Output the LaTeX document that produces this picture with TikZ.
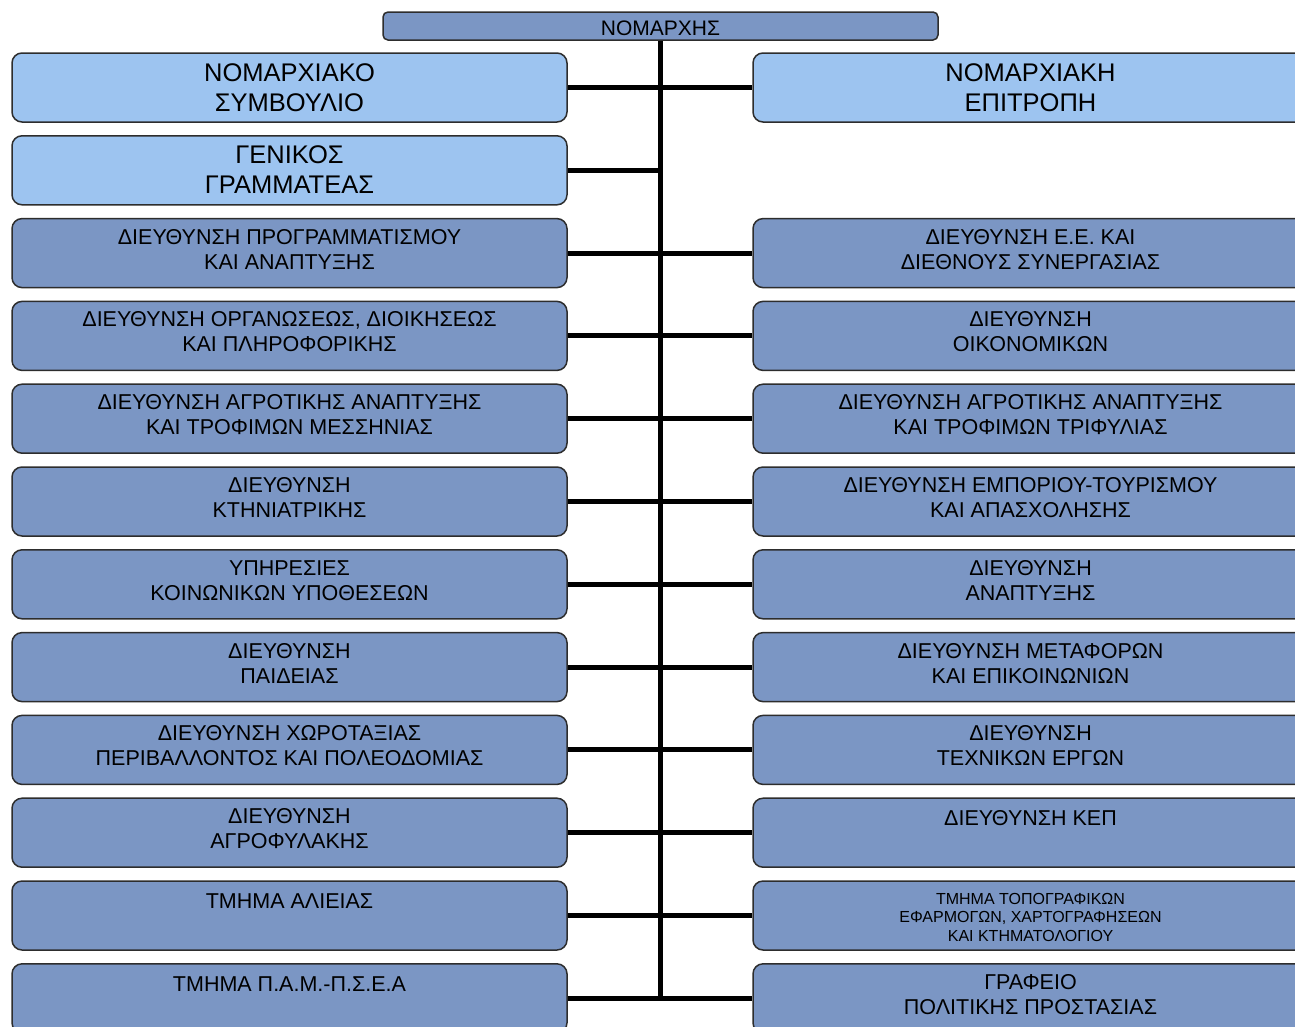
\documentclass[tikz,border=0pt]{standalone}
\usepackage{fontspec}
\setmainfont{Liberation Sans}
\usepackage{xcolor}
\usetikzlibrary{positioning}

\definecolor{lightunit}{RGB}{157,196,240}
\definecolor{darkunit}{RGB}{123,150,196}
\definecolor{edgegray}{RGB}{45,45,45}

\begin{document}
\begin{tikzpicture}[x=1pt, y=-1pt, node distance=82.8pt]
\tikzstyle{unit} = [rectangle, rounded corners=10pt, draw=edgegray, line width=1.5pt, minimum width=555pt, inner sep=0pt, align=center, text height=50.5pt, text depth=18.5pt]
\tikzstyle{light} = [unit, fill=lightunit, font=\fontsize{25.5}{30}\selectfont, text height=58pt, text depth=11pt]
\tikzstyle{dark} = [unit, fill=darkunit, font=\fontsize{21.5}{25}\selectfont]
\tikzstyle{oneline} = [text height=27.5pt, text depth=41.5pt]
\tikzstyle{link} = [line width=5pt, black]

\clip (0,0) rectangle (1295,1026);
\fill[white] (0,0) rectangle (1295,1026);

\node (head) [rectangle, rounded corners=5pt, draw=edgegray, line width=1.5pt, fill=darkunit, minimum width=555pt, minimum height=28pt, inner sep=0pt, font=\fontsize{21}{24}\selectfont, text height=23.5pt, text depth=4.5pt] at (660.5,26) {ΝΟΜΑΡΧΗΣ};

% left column
\node (l1) [light] at (289.5,87.5) {ΝΟΜΑΡΧΙΑΚΟ\\ΣΥΜΒΟΥΛΙΟ};
\node (l2) [light, below of=l1] {ΓΕΝΙΚΟΣ\\ΓΡΑΜΜΑΤΕΑΣ};
\node (l3) [dark, below of=l2] {ΔΙΕΥΘΥΝΣΗ ΠΡΟΓΡΑΜΜΑΤΙΣΜΟΥ\\ΚΑΙ ΑΝΑΠΤΥΞΗΣ};
\node (l4) [dark, below of=l3] {ΔΙΕΥΘΥΝΣΗ ΟΡΓΑΝΩΣΕΩΣ, ΔΙΟΙΚΗΣΕΩΣ\\ΚΑΙ ΠΛΗΡΟΦΟΡΙΚΗΣ};
\node (l5) [dark, below of=l4] {ΔΙΕΥΘΥΝΣΗ ΑΓΡΟΤΙΚΗΣ ΑΝΑΠΤΥΞΗΣ\\ΚΑΙ ΤΡΟΦΙΜΩΝ ΜΕΣΣΗΝΙΑΣ};
\node (l6) [dark, below of=l5] {ΔΙΕΥΘΥΝΣΗ\\ΚΤΗΝΙΑΤΡΙΚΗΣ};
\node (l7) [dark, below of=l6] {ΥΠΗΡΕΣΙΕΣ\\ΚΟΙΝΩΝΙΚΩΝ ΥΠΟΘΕΣΕΩΝ};
\node (l8) [dark, below of=l7] {ΔΙΕΥΘΥΝΣΗ\\ΠΑΙΔΕΙΑΣ};
\node (l9) [dark, below of=l8] {ΔΙΕΥΘΥΝΣΗ ΧΩΡΟΤΑΞΙΑΣ\\ΠΕΡΙΒΑΛΛΟΝΤΟΣ ΚΑΙ ΠΟΛΕΟΔΟΜΙΑΣ};
\node (l10) [dark, below of=l9] {ΔΙΕΥΘΥΝΣΗ\\ΑΓΡΟΦΥΛΑΚΗΣ};
\node (l11) [dark, oneline, below of=l10] {ΤΜΗΜΑ ΑΛΙΕΙΑΣ};
\node (l12) [dark, oneline, below of=l11] {ΤΜΗΜΑ Π.Α.Μ.-Π.Σ.Ε.Α};

% right column
\node (r1) [light, node distance=741pt, right of=l1] {ΝΟΜΑΡΧΙΑΚΗ\\ΕΠΙΤΡΟΠΗ};
\node (r3) [dark, node distance=741pt, right of=l3] {ΔΙΕΥΘΥΝΣΗ Ε.Ε. ΚΑΙ\\ΔΙΕΘΝΟΥΣ ΣΥΝΕΡΓΑΣΙΑΣ};
\node (r4) [dark, below of=r3] {ΔΙΕΥΘΥΝΣΗ\\ΟΙΚΟΝΟΜΙΚΩΝ};
\node (r5) [dark, below of=r4] {ΔΙΕΥΘΥΝΣΗ ΑΓΡΟΤΙΚΗΣ ΑΝΑΠΤΥΞΗΣ\\ΚΑΙ ΤΡΟΦΙΜΩΝ ΤΡΙΦΥΛΙΑΣ};
\node (r6) [dark, below of=r5] {ΔΙΕΥΘΥΝΣΗ ΕΜΠΟΡΙΟΥ-ΤΟΥΡΙΣΜΟΥ\\ΚΑΙ ΑΠΑΣΧΟΛΗΣΗΣ};
\node (r7) [dark, below of=r6] {ΔΙΕΥΘΥΝΣΗ\\ΑΝΑΠΤΥΞΗΣ};
\node (r8) [dark, below of=r7] {ΔΙΕΥΘΥΝΣΗ ΜΕΤΑΦΟΡΩΝ\\ΚΑΙ ΕΠΙΚΟΙΝΩΝΙΩΝ};
\node (r9) [dark, below of=r8] {ΔΙΕΥΘΥΝΣΗ\\ΤΕΧΝΙΚΩΝ ΕΡΓΩΝ};
\node (r10) [dark, oneline, below of=r9] {ΔΙΕΥΘΥΝΣΗ ΚΕΠ};
\node (r11) [dark, below of=r10, font=\fontsize{16}{18.5}\selectfont, text height=60pt, text depth=9pt] {ΤΜΗΜΑ ΤΟΠΟΓΡΑΦΙΚΩΝ\\ΕΦΑΡΜΟΓΩΝ, ΧΑΡΤΟΓΡΑΦΗΣΕΩΝ\\ΚΑΙ ΚΤΗΜΑΤΟΛΟΓΙΟΥ};
\node (r12) [dark, below of=r11] {ΓΡΑΦΕΙΟ\\ΠΟΛΙΤΙΚΗΣ ΠΡΟΣΤΑΣΙΑΣ};

% spine and branches
\coordinate (end) at (head.south |- l12.west);
\coordinate (mid2) at (head.south |- l2.east);
\draw [link] (head.south) -- ([yshift=-2.5pt]end);
\draw [link] (l1.east) -- (r1.west);
\draw [link] (l2.east) -- (mid2);
\foreach \i in {3,...,12}
  \draw [link] (l\i.east) -- (r\i.west);
\end{tikzpicture}
\end{document}
